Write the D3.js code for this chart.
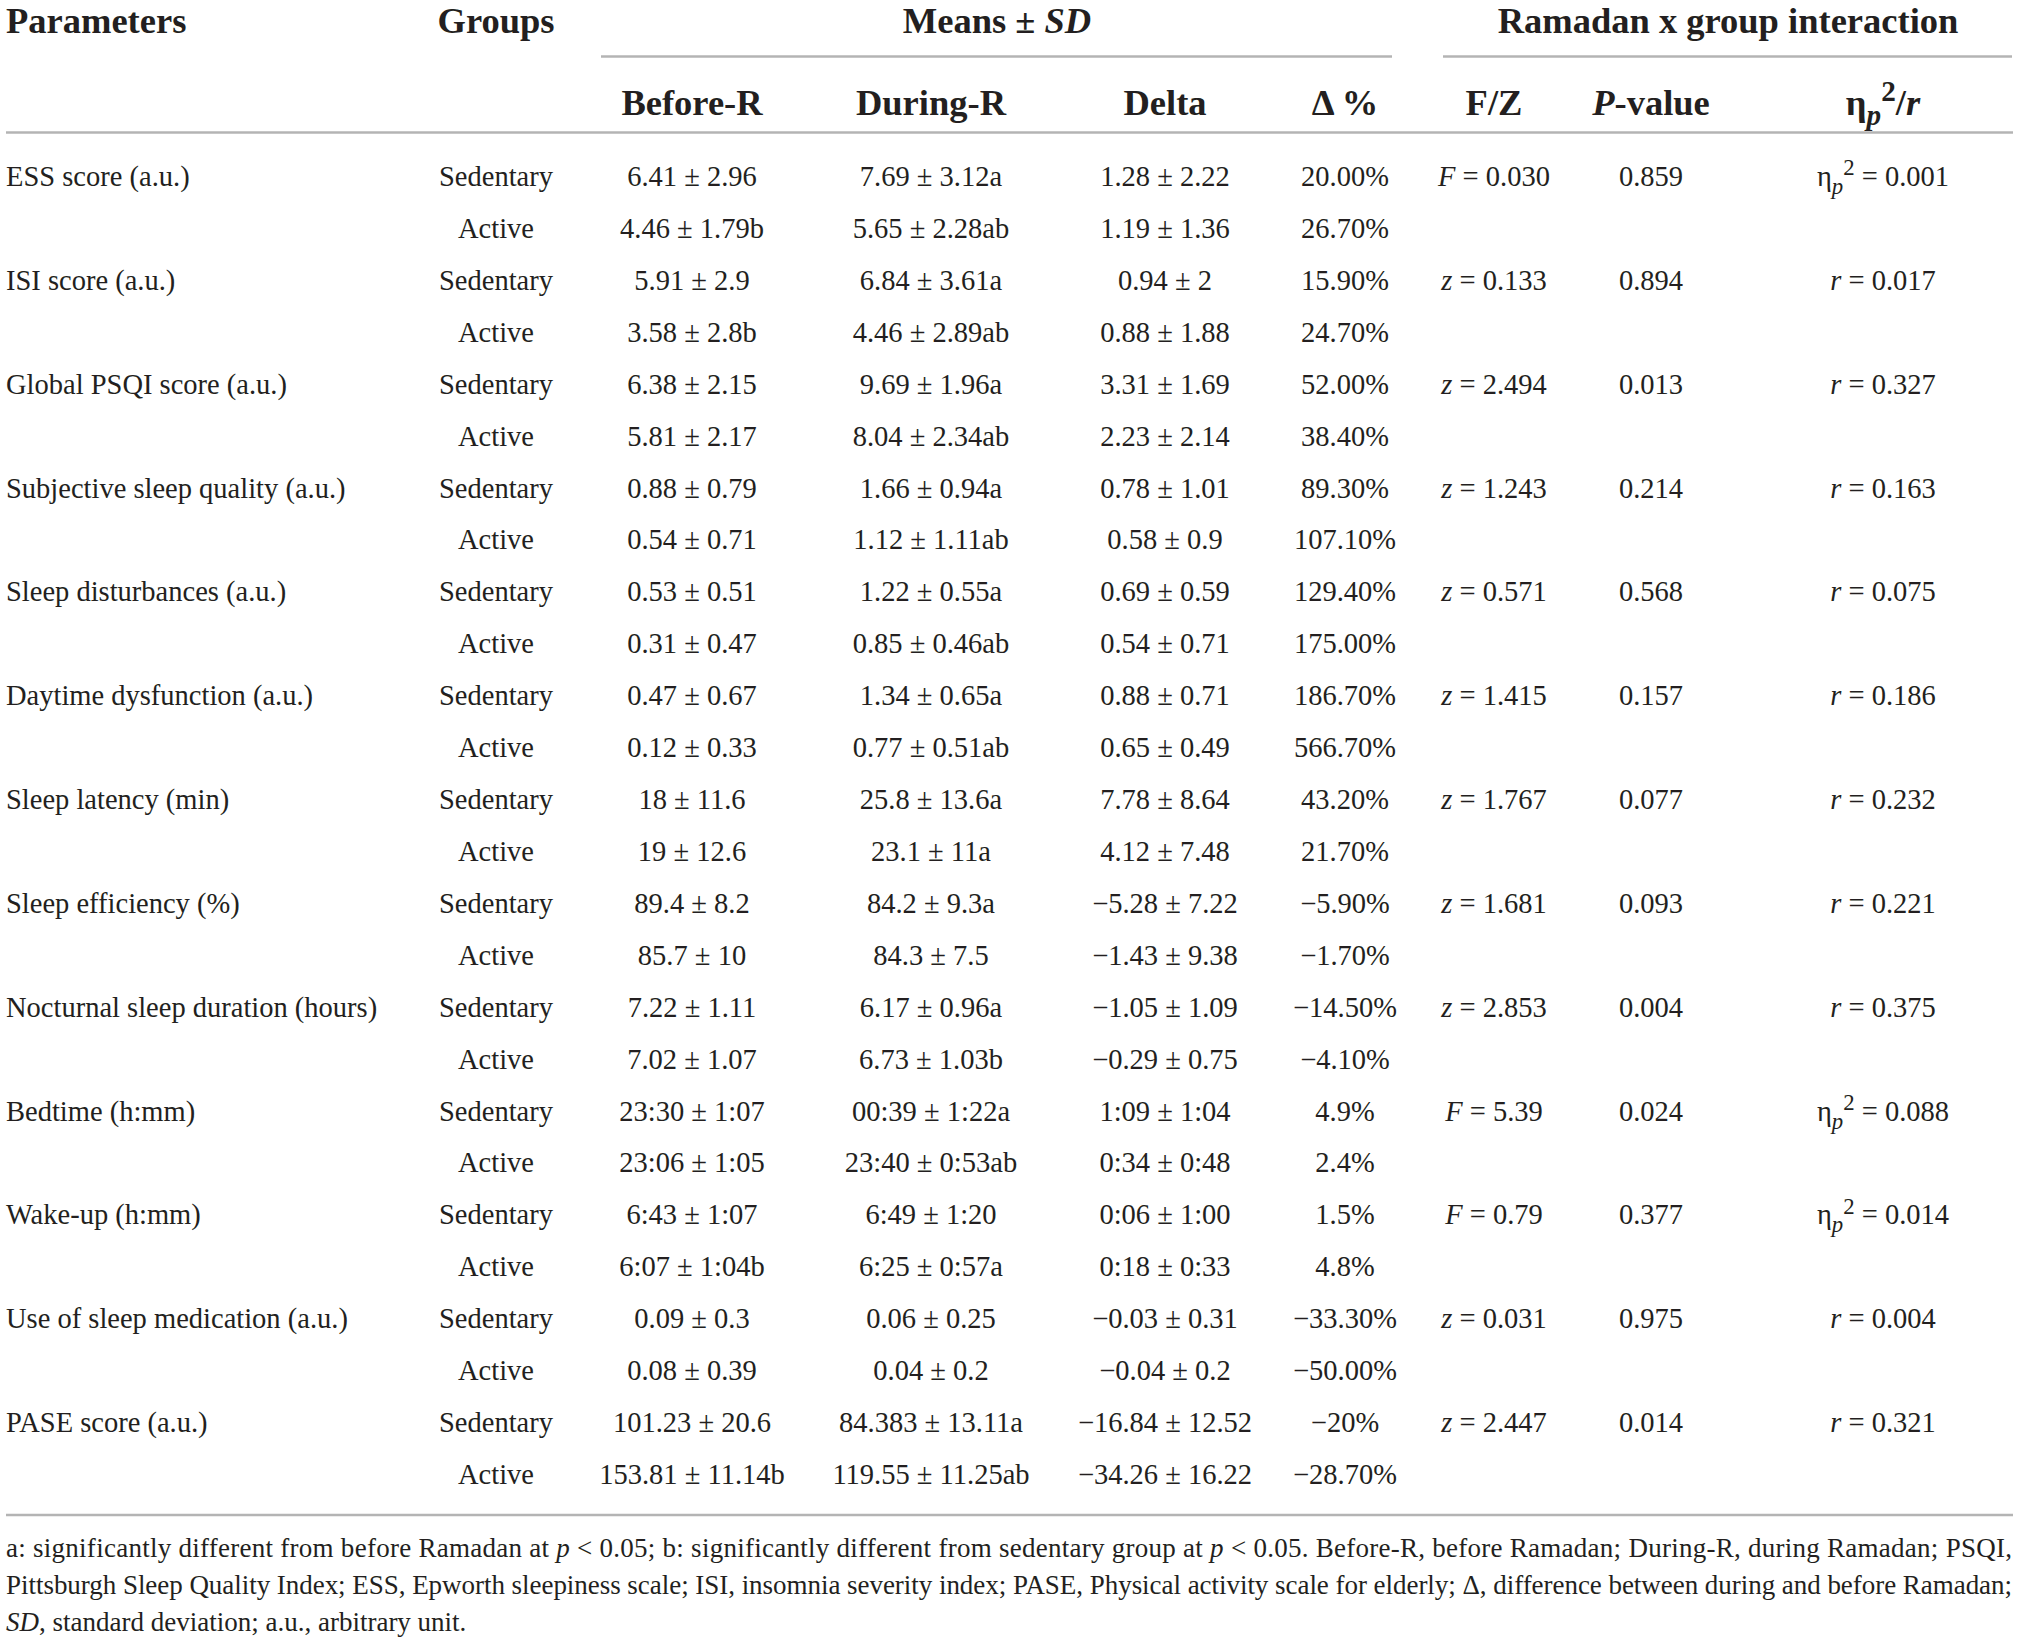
<!DOCTYPE html>
<html><head><meta charset="utf-8">
<script src="https://cdn.jsdelivr.net/npm/d3@7/dist/d3.min.js"></script>
<style>html,body{margin:0;padding:0;background:#fff;overflow:hidden;} svg{display:block;}</style>
</head><body><script>
// ---------- data ----------
const parameters = ["ESS score (a.u.)", "ISI score (a.u.)", "Global PSQI score (a.u.)", "Subjective sleep quality (a.u.)",
  "Sleep disturbances (a.u.)", "Daytime dysfunction (a.u.)", "Sleep latency (min)", "Sleep efficiency (%)",
  "Nocturnal sleep duration (hours)", "Bedtime (h:mm)", "Wake-up (h:mm)", "Use of sleep medication (a.u.)", "PASE score (a.u.)"];
const groups = ["Sedentary", "Active"];
const beforeR = ["6.41 ± 2.96","4.46 ± 1.79b","5.91 ± 2.9","3.58 ± 2.8b","6.38 ± 2.15","5.81 ± 2.17","0.88 ± 0.79","0.54 ± 0.71",
  "0.53 ± 0.51","0.31 ± 0.47","0.47 ± 0.67","0.12 ± 0.33","18 ± 11.6","19 ± 12.6","89.4 ± 8.2","85.7 ± 10",
  "7.22 ± 1.11","7.02 ± 1.07","23:30 ± 1:07","23:06 ± 1:05","6:43 ± 1:07","6:07 ± 1:04b","0.09 ± 0.3","0.08 ± 0.39",
  "101.23 ± 20.6","153.81 ± 11.14b"];
const duringR = ["7.69 ± 3.12a","5.65 ± 2.28ab","6.84 ± 3.61a","4.46 ± 2.89ab","9.69 ± 1.96a","8.04 ± 2.34ab","1.66 ± 0.94a","1.12 ± 1.11ab",
  "1.22 ± 0.55a","0.85 ± 0.46ab","1.34 ± 0.65a","0.77 ± 0.51ab","25.8 ± 13.6a","23.1 ± 11a","84.2 ± 9.3a","84.3 ± 7.5",
  "6.17 ± 0.96a","6.73 ± 1.03b","00:39 ± 1:22a","23:40 ± 0:53ab","6:49 ± 1:20","6:25 ± 0:57a","0.06 ± 0.25","0.04 ± 0.2",
  "84.383 ± 13.11a","119.55 ± 11.25ab"];
const deltaVals = ["1.28 ± 2.22","1.19 ± 1.36","0.94 ± 2","0.88 ± 1.88","3.31 ± 1.69","2.23 ± 2.14","0.78 ± 1.01","0.58 ± 0.9",
  "0.69 ± 0.59","0.54 ± 0.71","0.88 ± 0.71","0.65 ± 0.49","7.78 ± 8.64","4.12 ± 7.48","−5.28 ± 7.22","−1.43 ± 9.38",
  "−1.05 ± 1.09","−0.29 ± 0.75","1:09 ± 1:04","0:34 ± 0:48","0:06 ± 1:00","0:18 ± 0:33","−0.03 ± 0.31","−0.04 ± 0.2",
  "−16.84 ± 12.52","−34.26 ± 16.22"];
const deltaPct = ["20.00%","26.70%","15.90%","24.70%","52.00%","38.40%","89.30%","107.10%","129.40%","175.00%","186.70%","566.70%",
  "43.20%","21.70%","−5.90%","−1.70%","−14.50%","−4.10%","4.9%","2.4%","1.5%","4.8%","−33.30%","−50.00%","−20%","−28.70%"];
const fzType = ["F","z","z","z","z","z","z","z","z","F","F","z","z"];
const fzVal = ["0.030","0.133","2.494","1.243","0.571","1.415","1.767","1.681","2.853","5.39","0.79","0.031","2.447"];
const pValues = ["0.859","0.894","0.013","0.214","0.568","0.157","0.077","0.093","0.004","0.024","0.377","0.975","0.014"];
const effType = ["eta","r","r","r","r","r","r","r","r","eta","eta","r","r"];
const effVal = ["0.001","0.017","0.327","0.163","0.075","0.186","0.232","0.221","0.375","0.088","0.014","0.004","0.321"];
const subHeaders = ["Before-R","During-R","Delta","Δ %","F/Z","P-value","eta"];

// ---------- layout ----------
const W = 2019, H = 1643;
const ink = "#231f20", rule = "#b4b4b4";
const FONT = "'Liberation Serif','Times New Roman',serif";
const bodySize = 28.5, headSize = 36.5, footSize = 27;
const colX = {param: 6, group: 496, before: 692, during: 931, delta: 1165, pct: 1345, fz: 1494, p: 1651, eff: 1883};
const nRows = parameters.length * groups.length;
const y = d3.scaleLinear().domain([0, nRows - 1]).range([176, 1474]);
const baseOff = 10;

const svg = d3.select("body").append("svg").attr("width", W).attr("height", H)
  .style("font-family", FONT).attr("fill", ink);
svg.append("rect").attr("width", W).attr("height", H).attr("fill", "#fff");

function rich(g, x, yy, segs, opts) {
  const t = g.append("text").attr("x", x).attr("y", yy)
    .attr("text-anchor", opts.anchor || "middle")
    .attr("font-size", opts.size).attr("font-weight", opts.bold ? "bold" : "normal");
  let shift = 0;
  segs.forEach(s => {
    const ts = t.append("tspan").text(s.t);
    if (s.i) ts.attr("font-style", "italic");
    let target = 0, fs = null;
    if (s.sub) { target = opts.size * 0.28; fs = opts.size * 0.8; }
    if (s.sup) { target = -opts.size * 0.38; fs = opts.size * 0.8; }
    if (fs) ts.attr("font-size", fs);
    const dy = target - shift;
    if (dy !== 0) ts.attr("dy", dy);
    shift = target;
  });
  return t;
}

// ---------- header ----------
const hdr = svg.append("g");
const h1 = 33, h2 = 115;
rich(hdr, colX.param, h1, [{t: "Parameters"}], {size: headSize, bold: true, anchor: "start"});
rich(hdr, colX.group, h1, [{t: "Groups"}], {size: headSize, bold: true});
rich(hdr, 997, h1, [{t: "Means ± "}, {t: "SD", i: true}], {size: headSize, bold: true});
rich(hdr, 1728, h1, [{t: "Ramadan x group interaction"}], {size: headSize, bold: true});
const subX = [colX.before, colX.during, colX.delta, colX.pct, colX.fz, colX.p, colX.eff];
subHeaders.forEach((s, i) => {
  let segs;
  if (s === "P-value") segs = [{t: "P", i: true}, {t: "-value"}];
  else if (s === "eta") segs = [{t: "η"}, {t: "p", i: true, sub: true}, {t: "2", sup: true}, {t: "/"}, {t: "r", i: true}];
  else segs = [{t: s}];
  rich(hdr, subX[i], h2, segs, {size: headSize, bold: true});
});

// rules
const rules = [
  {x1: 601, x2: 1392, y: 56.5},
  {x1: 1443, x2: 2012, y: 56.5},
  {x1: 6, x2: 2013, y: 132.5},
  {x1: 6, x2: 2013, y: 1515}
];
svg.append("g").selectAll("line").data(rules).join("line")
  .attr("x1", d => d.x1).attr("x2", d => d.x2).attr("y1", d => d.y).attr("y2", d => d.y)
  .attr("stroke", rule).attr("stroke-width", 2.5);

// ---------- body ----------
const body = svg.append("g").attr("font-size", bodySize);
const rowIdx = d3.range(nRows);
body.selectAll("text.param").data(parameters).join("text").attr("class", "param")
  .attr("x", colX.param).attr("y", (d, i) => y(i * 2) + baseOff).text(d => d);
body.selectAll("text.grp").data(rowIdx).join("text").attr("class", "grp")
  .attr("x", colX.group).attr("y", i => y(i) + baseOff).attr("text-anchor", "middle").text(i => groups[i % 2]);
[[beforeR, colX.before], [duringR, colX.during], [deltaVals, colX.delta], [deltaPct, colX.pct]].forEach(([arr, cx]) => {
  body.append("g").selectAll("text").data(arr).join("text")
    .attr("x", cx).attr("y", (d, i) => y(i) + baseOff).attr("text-anchor", "middle").text(d => d);
});
parameters.forEach((p, k) => {
  const yy = y(k * 2) + baseOff;
  rich(body, colX.fz, yy, [{t: fzType[k], i: true}, {t: " = " + fzVal[k]}], {size: bodySize});
  rich(body, colX.p, yy, [{t: pValues[k]}], {size: bodySize});
  const segs = effType[k] === "eta"
    ? [{t: "η"}, {t: "p", i: true, sub: true}, {t: "2", sup: true}, {t: " = " + effVal[k]}]
    : [{t: "r", i: true}, {t: " = " + effVal[k]}];
  rich(body, colX.eff, yy, segs, {size: bodySize});
});

// ---------- footnote ----------
const foot = svg.append("g");
const fy = [1557, 1594, 1631];
rich(foot, 6, fy[0], [
  {t: "a: significantly different from before Ramadan at "}, {t: "p", i: true},
  {t: " < 0.05; b: significantly different from sedentary group at "}, {t: "p", i: true},
  {t: " < 0.05. Before-R, before Ramadan; During-R, during Ramadan; PSQI,"}
], {size: footSize, anchor: "start"}).attr("textLength", 2006).attr("lengthAdjust", "spacing");
rich(foot, 6, fy[1], [
  {t: "Pittsburgh Sleep Quality Index; ESS, Epworth sleepiness scale; ISI, insomnia severity index; PASE, Physical activity scale for elderly; Δ, difference between during and before Ramadan;"}
], {size: footSize, anchor: "start"}).attr("textLength", 2006).attr("lengthAdjust", "spacing");
rich(foot, 6, fy[2], [{t: "SD", i: true}, {t: ", standard deviation; a.u., arbitrary unit."}], {size: footSize, anchor: "start"});
</script></body></html>
